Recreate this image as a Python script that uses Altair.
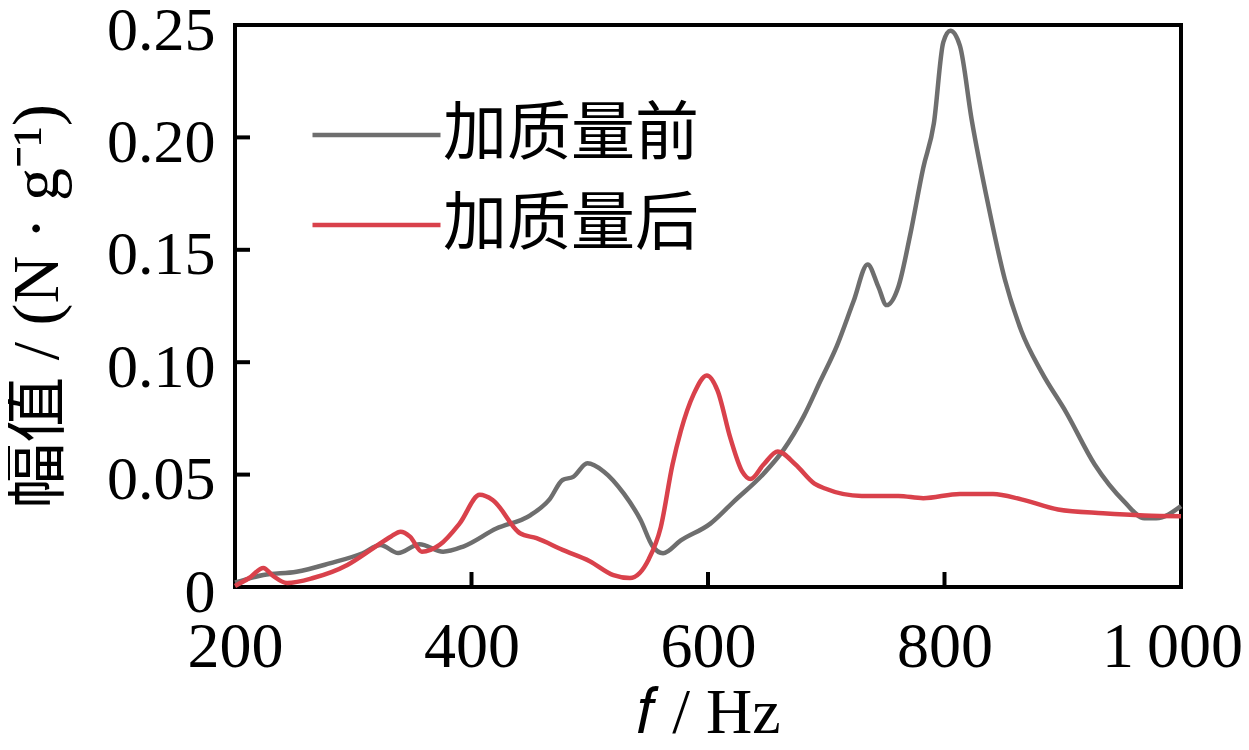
import altair as alt
import pandas as pd

# Series: before adding mass (gray) and after adding mass (red)
freq_before = [200, 224, 252, 280, 308, 323, 338, 356, 376, 393, 421, 450, 466, 477, 486, 498,
               512, 529, 543, 553, 562, 577, 602, 622, 647, 664, 681, 695, 709, 723, 735, 744,
               751, 761, 771, 782, 791, 799, 805, 813, 823, 837, 851, 865, 882, 903, 927, 952,
               969, 979, 1000]
amp_before = [0.0020, 0.0053, 0.0068, 0.0105, 0.0150, 0.0187, 0.0151, 0.0190, 0.0157, 0.0180,
              0.0260, 0.0320, 0.0390, 0.0476, 0.0490, 0.0550, 0.0513, 0.0414, 0.0298, 0.0183,
              0.0150, 0.0207, 0.0282, 0.0381, 0.0504, 0.0611, 0.0760, 0.0916, 0.1073, 0.1270,
              0.1435, 0.1336, 0.1254, 0.1336, 0.1567, 0.1864, 0.2062, 0.2424, 0.2474, 0.2408,
              0.2078, 0.1699, 0.1369, 0.1139, 0.0957, 0.0776, 0.0545, 0.0380, 0.0306, 0.0306,
              0.0360]

freq_after = [200, 212, 224, 232, 244, 266, 295, 317, 332, 340, 348, 358, 373, 390, 407, 418,
              441, 455, 477, 500, 520, 534, 550, 560, 570, 577, 588, 599, 608, 619, 629, 636,
              647, 659, 674, 690, 699, 730, 761, 782, 813, 841, 865, 896, 934, 969, 1000]
amp_after = [0.0005, 0.0040, 0.0085, 0.0050, 0.0018, 0.0040, 0.0098, 0.0173, 0.0225, 0.0246,
             0.0224, 0.0157, 0.0187, 0.0283, 0.0410, 0.0387, 0.0239, 0.0217, 0.0165, 0.0115,
             0.0053, 0.0040, 0.0125, 0.0265, 0.0545, 0.0694, 0.0859, 0.0941, 0.0875, 0.0661,
             0.0513, 0.0480, 0.0545, 0.0603, 0.0545, 0.0460, 0.0438, 0.0405, 0.0405, 0.0395,
             0.0414, 0.0414, 0.0390, 0.0345, 0.0328, 0.0318, 0.0315]

series_names = ["加质量前", "加质量后"]
series_colors = ["#6e6e6e", "#d9414b"]

x_tick_values = [200, 400, 600, 800, 1000]
y_tick_values = [0, 0.05, 0.10, 0.15, 0.20, 0.25]
x_inner_ticks = [400, 600, 800]
y_inner_ticks = [0.05, 0.10, 0.15, 0.20]

W, H = 946, 562
FONT = "Liberation Serif, Noto Sans CJK SC"
CJK = "Noto Sans CJK SC"

df = pd.concat([
    pd.DataFrame({"f": freq_before, "amp": amp_before, "s": series_names[0], "o": 0}),
    pd.DataFrame({"f": freq_after, "amp": amp_after, "s": series_names[1], "o": 1}),
])

xscale = alt.Scale(domain=[200, 1000], nice=False)
yscale = alt.Scale(domain=[0, 0.25], nice=False)

xaxis = alt.Axis(values=x_tick_values, ticks=False, domain=False, grid=False,
                 labelExpr="datum.value == 1000 ? '1\u2009000' : datum.label",
                 labelOffset={"expr": "datum.value == 1000 ? -9 : 0"},
                 labelFontSize=64, labelFont=FONT, labelColor="black",
                 labelPadding=28, labelFlush=False,
                 title="𝑓 / Hz", titleFont=FONT, titleFontSize=64,
                 titleFontWeight="normal", titleColor="black", titlePadding=2)
yaxis = alt.Axis(values=y_tick_values, ticks=False, domain=False, grid=False,
                 labelExpr="datum.value == 0 ? '0' : format(datum.value, '.2f')",
                 labelFontSize=62, labelFont=FONT, labelColor="black",
                 labelPadding=20, labelOffset=5,
                 title="幅值 / (N · g⁻¹)", titleFont=FONT, titleFontSize=66,
                 titleFontWeight="normal", titleColor="black", titlePadding=35)

lines = alt.Chart(df).mark_line(strokeWidth=4.5, interpolate="monotone").encode(
    x=alt.X("f:Q", scale=xscale, axis=xaxis),
    y=alt.Y("amp:Q", scale=yscale, axis=yaxis),
    color=alt.Color("s:N", scale=alt.Scale(domain=series_names, range=series_colors),
                    legend=alt.Legend(orient="none", legendX=75, legendY=78, title=None,
                                      padding=0, clipHeight=64,
                                      symbolType="stroke", symbolSize=16384,
                                      symbolStrokeWidth=4.5, labelFont=CJK,
                                      labelFontSize=64, labelColor="black", labelLimit=500,
                                      labelOffset=0, rowPadding=26)),
    detail="s:N",
    order="o:Q",
)

ytk = alt.Chart(pd.DataFrame({"amp": y_inner_ticks})).mark_rule(color="black", strokeWidth=4).encode(
    y=alt.Y("amp:Q", scale=yscale, axis=yaxis),
    x=alt.value(0), x2=alt.value(15),
)
xtk = alt.Chart(pd.DataFrame({"f": x_inner_ticks})).mark_rule(color="black", strokeWidth=4).encode(
    x=alt.X("f:Q", scale=xscale, axis=xaxis),
    y=alt.value(H), y2=alt.value(H - 15),
)

chart = alt.layer(lines, ytk, xtk).properties(
    width=W, height=H,
    background="white",
    autosize=alt.AutoSizeParams(type="none"),
    padding={"left": 227, "top": 17, "right": 60, "bottom": 155},
).configure_view(stroke="black", strokeWidth=4)

chart.save("out.html", embed_options={"renderer": "svg", "actions": False})
